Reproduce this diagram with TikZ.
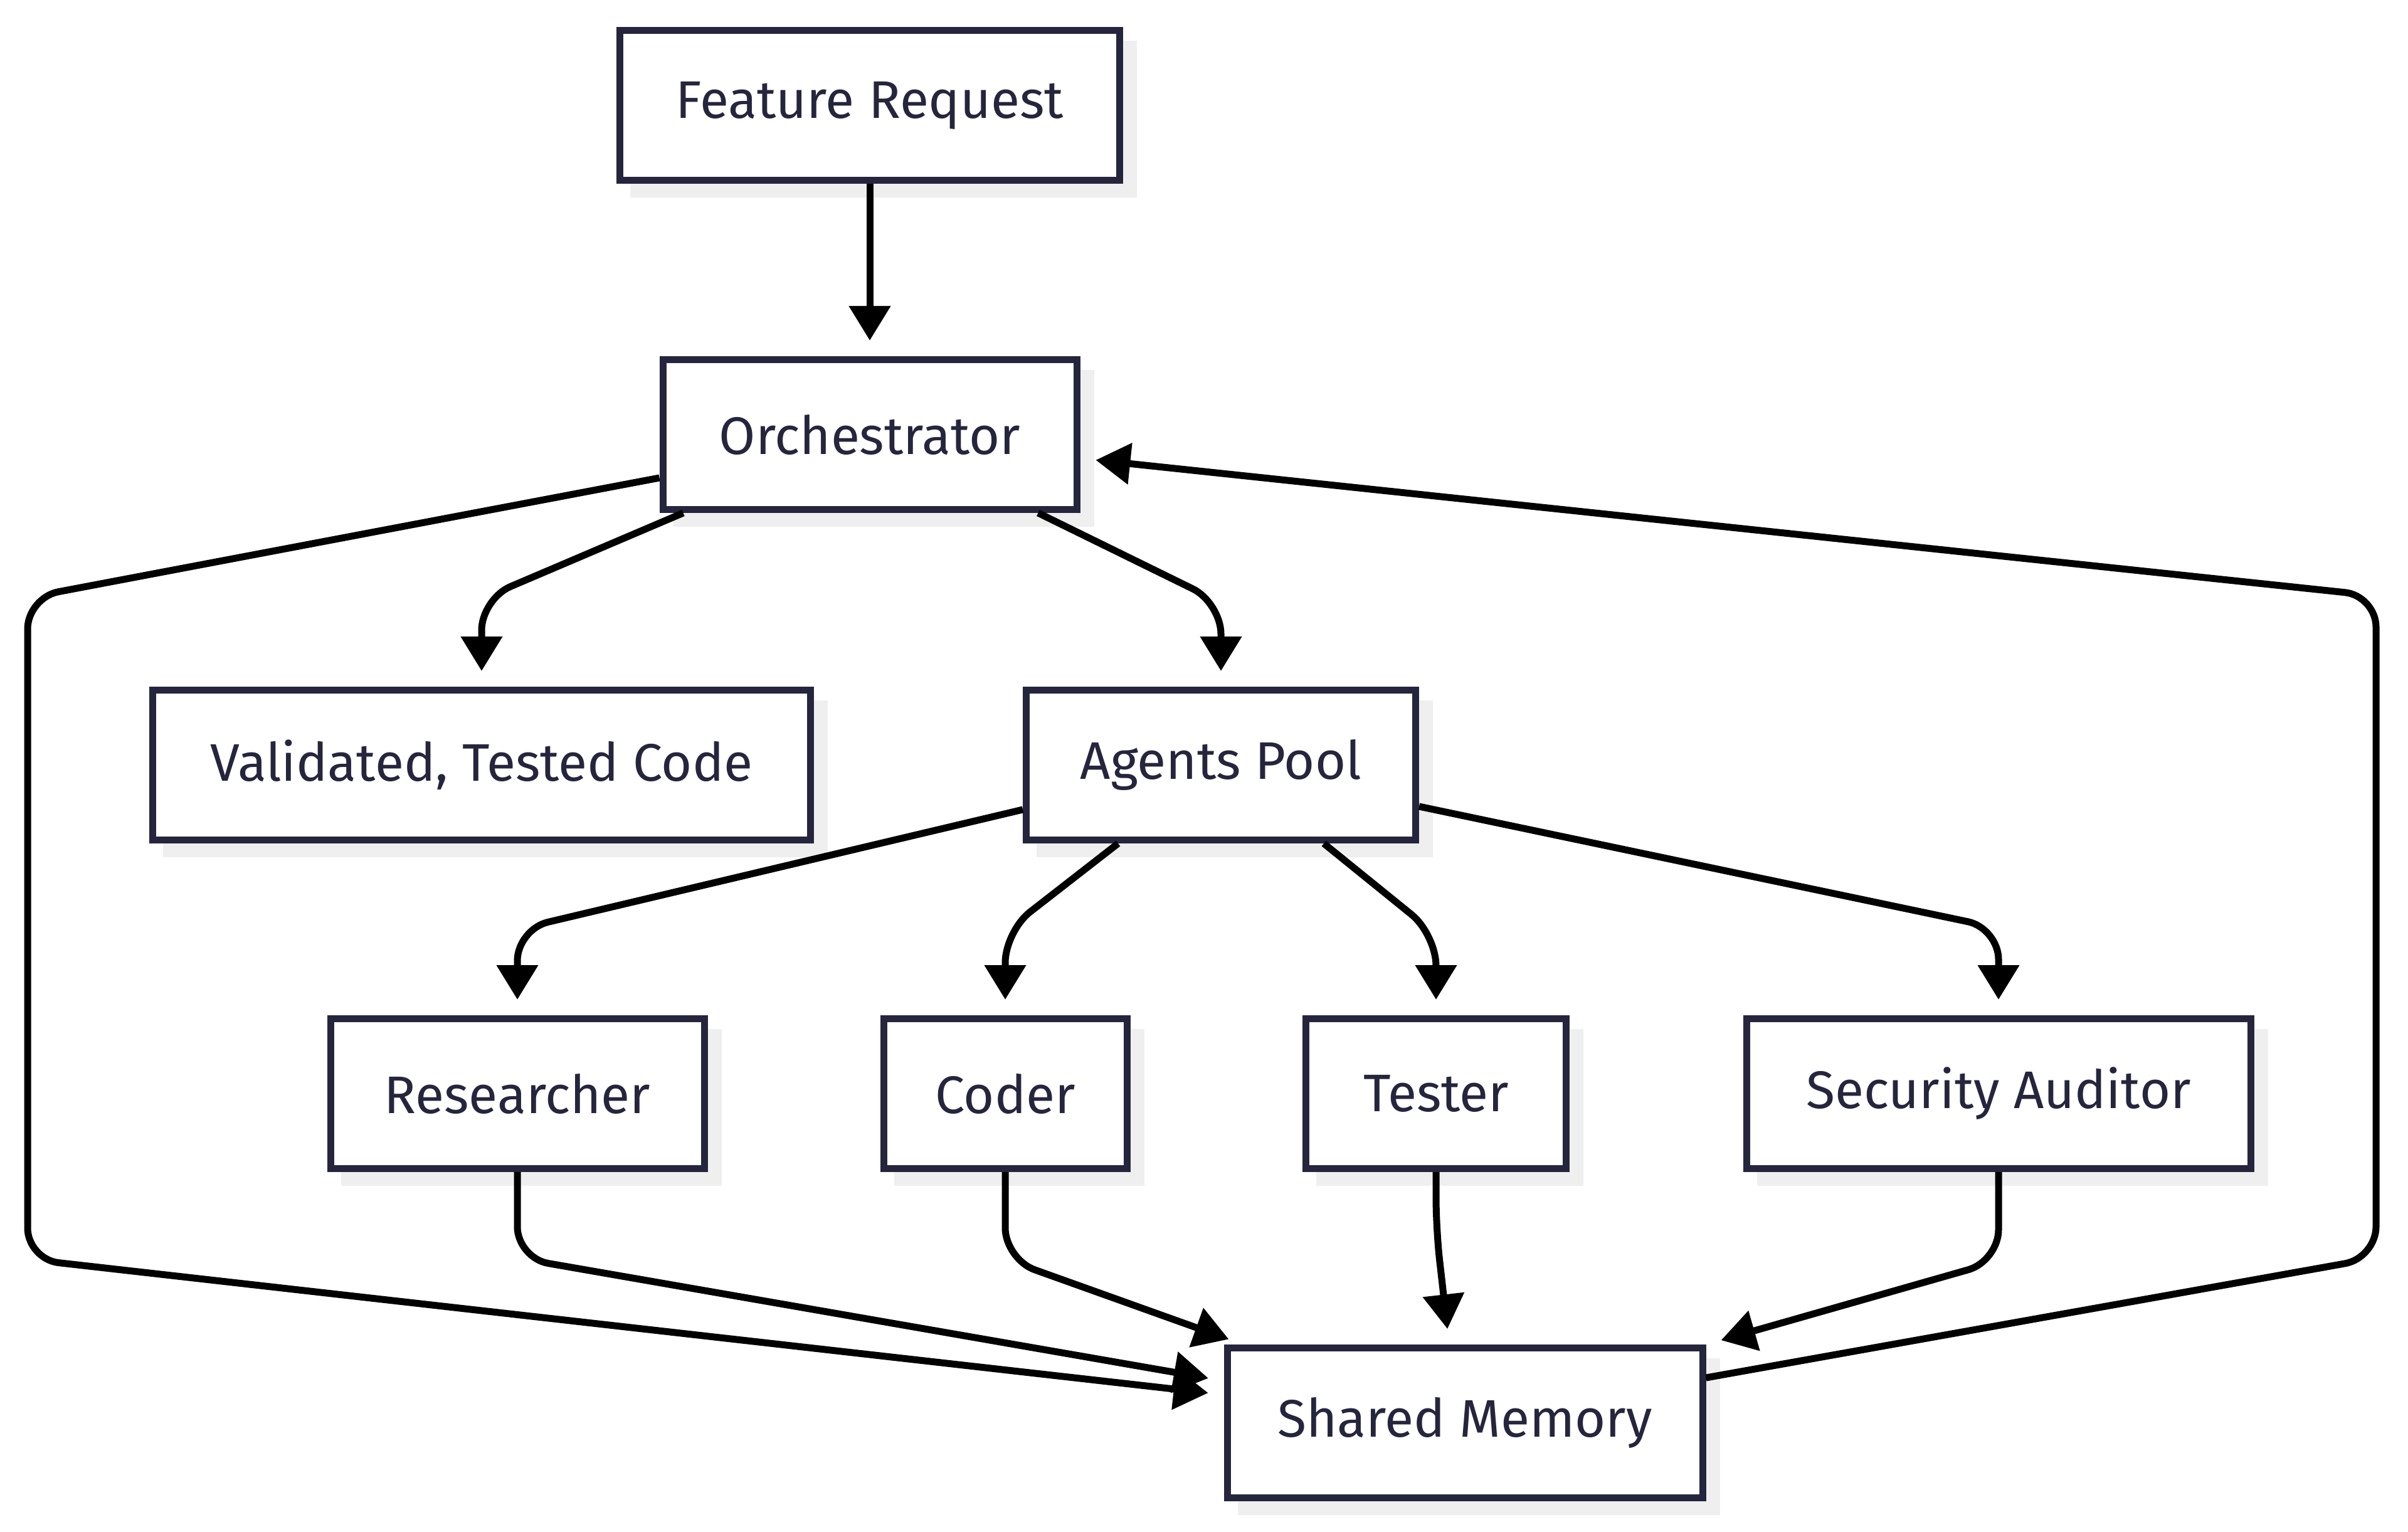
\documentclass[tikz,border=0pt]{standalone}
\usepackage{fontspec}
\setmainfont{Fira Sans}
\usetikzlibrary{arrows.meta, shadows}
\definecolor{boxedge}{HTML}{25253D}
\definecolor{boxtext}{HTML}{25253D}
\definecolor{boxshadow}{HTML}{EFEFEF}
\definecolor{flowline}{HTML}{000000}

\begin{document}
\begin{tikzpicture}[
  box/.style={rectangle, draw=boxedge, line width=0.11cm, fill=white, text=boxtext,
              minimum height=2.39cm, align=center, font=\fontsize{24}{28}\selectfont,
              drop shadow={shadow xshift=0.22cm, shadow yshift=-0.22cm, fill=boxshadow,
                           draw=boxshadow, line width=0.11cm, opacity=1}},
  flow/.style={draw=flowline, line width=0.11cm, rounded corners=0.5cm,
               -{Triangle[length=0.55cm, width=0.64cm]}, shorten >=0.25cm},
]
\useasboundingbox (0,0) rectangle (38.4,-24.43);
% ================= request and orchestrator ================================
\node[box, minimum width=7.97cm] (request) at (13.87, -1.68) {Feature Request};
\node[box, minimum width=6.60cm] (orch) at (13.87, -6.93) {Orchestrator};
% ================= second row ==============================================
\node[box, minimum width=10.49cm] (result) at (7.68, -12.20) {Validated, Tested Code};
\node[box, minimum width=6.21cm] (pool) at (19.47, -12.20) {Agents Pool};
% ================= agents ==================================================
\node[box, minimum width=5.96cm] (researcher) at (8.25, -17.44) {Researcher};
\node[box, minimum width=3.88cm] (coder) at (16.03, -17.44) {Coder};
\node[box, minimum width=4.15cm] (tester) at (22.90, -17.44) {Tester};
\node[box, minimum width=8.04cm] (auditor) at (31.87, -17.44) {Security Auditor};
% ================= memory ==================================================
\node[box, minimum width=7.58cm] (memory) at (23.36, -22.69) {Shared Memory};
% ================= connectors ==============================================
\draw[flow] (request) -- (orch);
\draw[flow] ([xshift=0.38cm]orch.south west) -- (7.68, -9.55) -- (result.north);
\draw[flow] ([xshift=-0.67cm]orch.south east) -- (19.47, -9.61) -- (pool.north);
\draw[flow] ([yshift=-0.69cm]orch.west) -- (0.44, -9.53) -- (0.44, -20.08) -- ([yshift=0.45cm]memory.west);   % left loop
\draw[flow] ([yshift=0.72cm]memory.east) -- (37.89, -20.06) -- (37.89, -9.50) -- ([yshift=-0.38cm]orch.east); % right loop
\draw[flow] ([yshift=-0.71cm]pool.west) -- (8.25, -14.82) -- (researcher.north);
\draw[flow] ([xshift=1.52cm]pool.south west) -- (16.03, -14.85) -- (coder.north);
\draw[flow] ([xshift=-1.52cm]pool.south east) -- (22.90, -14.90) -- (tester.north);
\draw[flow] ([yshift=-0.66cm]pool.east) -- (31.87, -14.80) -- (auditor.north);
\draw[flow] (researcher.south) -- (8.25, -20.06) -- ([yshift=0.67cm]memory.west);
\draw[flow] (coder.south) -- (16.03, -20.08) -- ([xshift=-3.53cm]memory.north);
\draw[flow] (tester.south) -- (22.90, -19.60) -- ([xshift=-0.25cm]memory.north);
\draw[flow] (auditor.south) -- (31.87, -20.11) -- (memory.north east);
\end{tikzpicture}
\end{document}
